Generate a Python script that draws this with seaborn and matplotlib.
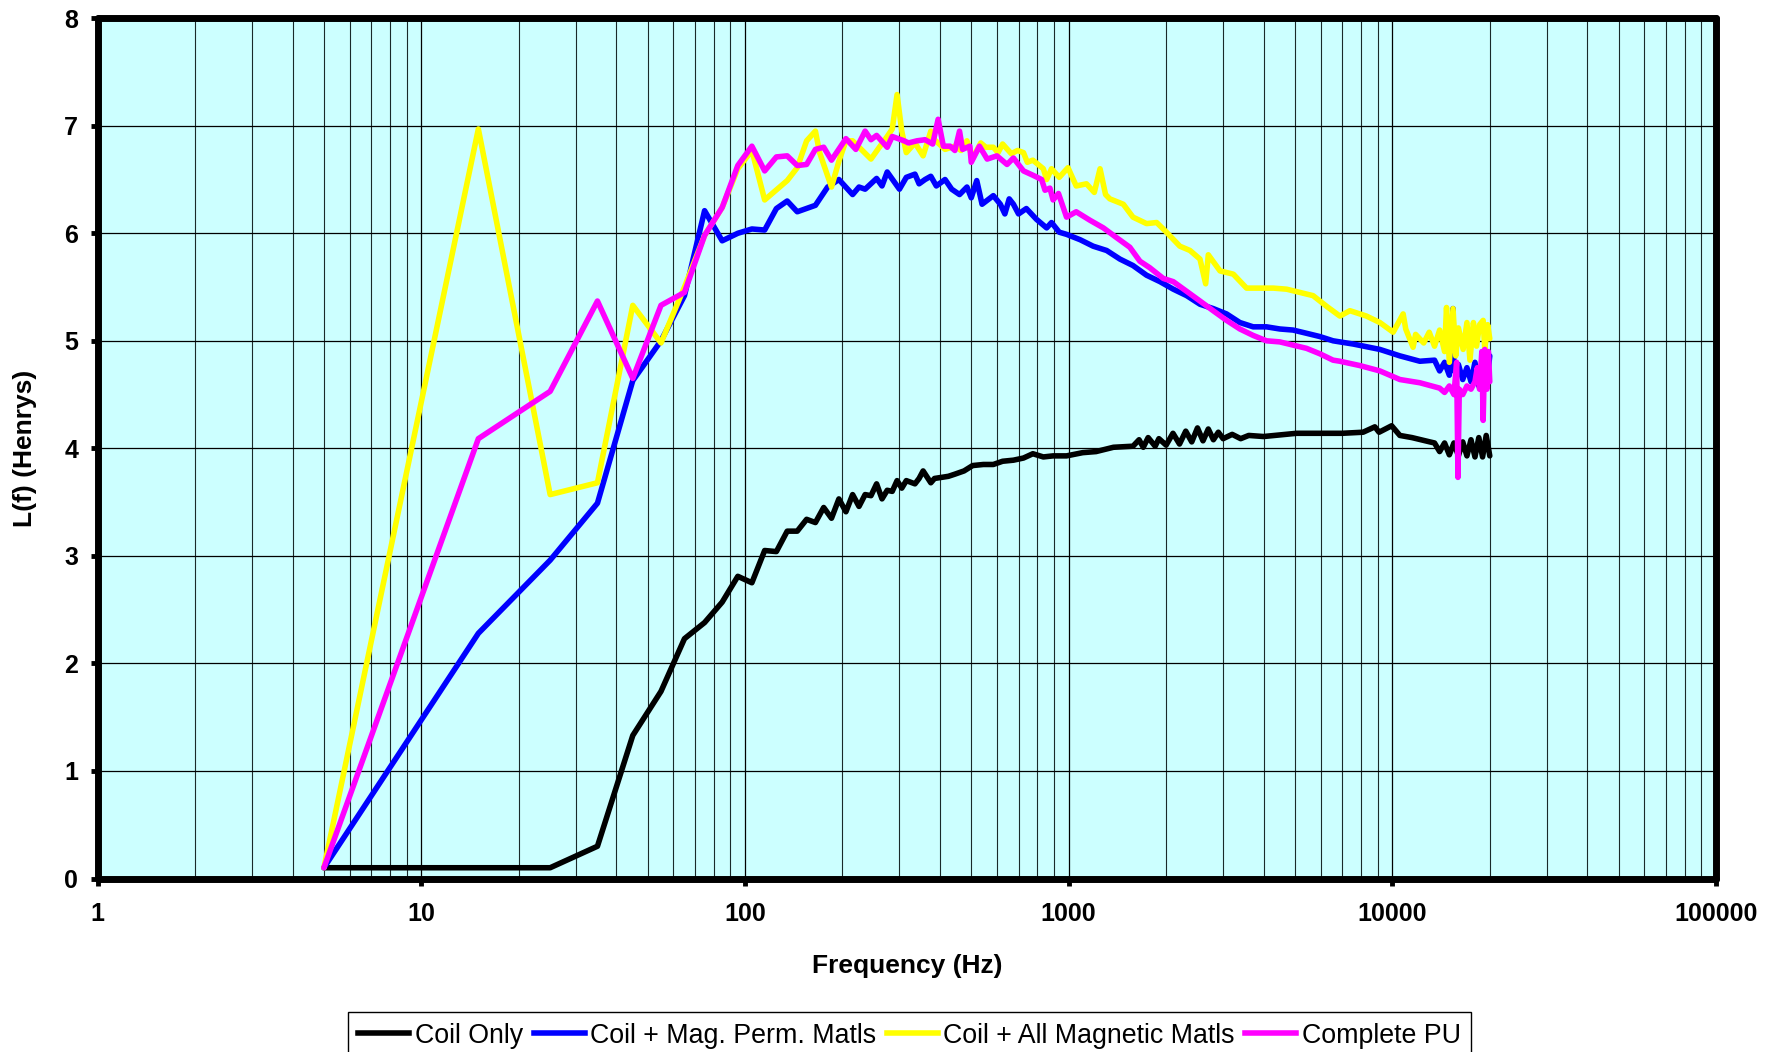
import numpy as np
import pandas as pd
import matplotlib
matplotlib.use("Agg")
import matplotlib.pyplot as plt
from matplotlib.ticker import FixedLocator, FuncFormatter, LogLocator, NullFormatter
from matplotlib.lines import Line2D
import seaborn as sns

# ---------------- data ----------------
series_names = ["Coil Only", "Coil + Mag. Perm. Matls", "Coil + All Magnetic Matls", "Complete PU"]
series_colors = ["#000000", "#0000FF", "#FFFF00", "#FF00FF"]

coil_f = [5, 15, 25, 35, 45, 55, 65, 75, 85, 95, 105, 115, 125, 135, 145, 155, 165, 175, 185, 195,
          205, 215, 225, 235, 245, 255, 265, 275, 285, 295, 305, 315, 335, 345, 355, 375, 385, 425,
          445, 475, 505, 545, 585, 625, 675, 725, 775, 835, 895, 985, 1105, 1215, 1375, 1580, 1650,
          1700, 1760, 1850, 1900, 2000, 2100, 2200, 2300, 2400, 2500, 2600, 2700, 2800, 2900, 3000,
          3200, 3400, 3600, 4000, 5060, 5970, 7000, 8120, 8830, 9100, 9950, 10550, 11500, 13060,
          13500, 14000, 14500, 15000, 15500, 16000, 16500, 17000, 17500, 18000, 18500, 19000, 19500, 20000]
coil_L = [0.10, 0.10, 0.10, 0.30, 1.33, 1.74, 2.23, 2.38, 2.57, 2.81, 2.75, 3.05, 3.04, 3.23, 3.23, 3.34, 3.31, 3.45, 3.35, 3.53,
          3.41, 3.57, 3.46, 3.57, 3.56, 3.67, 3.53, 3.61, 3.60, 3.70, 3.63, 3.70, 3.67, 3.72, 3.79, 3.68, 3.72, 3.74,
          3.76, 3.79, 3.84, 3.85, 3.85, 3.88, 3.89, 3.91, 3.95, 3.92, 3.93, 3.93, 3.96, 3.97, 4.01, 4.02, 4.08,
          4.01, 4.10, 4.02, 4.09, 4.03, 4.14, 4.04, 4.16, 4.06, 4.19, 4.07, 4.18, 4.08, 4.15, 4.09,
          4.13, 4.09, 4.12, 4.11, 4.14, 4.14, 4.14, 4.15, 4.20, 4.15, 4.21, 4.12, 4.10, 4.06,
          4.05, 3.97, 4.05, 3.94, 4.05, 3.93, 4.06, 3.93, 4.08, 3.92, 4.10, 3.92, 4.12, 3.93]

mag_f = [5, 15, 25, 35, 45, 55, 65, 75, 85, 95, 105, 115, 125, 135, 145, 165, 180, 195, 215, 225,
         235, 255, 265, 275, 300, 315, 335, 345, 360, 375, 390, 415, 435, 460, 485, 500, 520, 540,
         585, 615, 635, 655, 675, 700, 740, 795, 855, 885, 935, 985, 1085, 1190, 1310, 1440, 1580,
         1740, 1915, 2105, 2315, 2545, 2795, 3075, 3380, 3715, 4085, 4490, 4935, 5430, 5965, 6560,
         7570, 9150, 10550, 12160, 13500, 14000, 14500, 15000, 15400, 15500, 16000, 16500, 17000,
         17500, 18000, 18500, 19000, 19500, 20000]
mag_L = [0.10, 2.28, 2.96, 3.49, 4.63, 5.00, 5.42, 6.21, 5.93, 6.00, 6.04, 6.03, 6.23, 6.30, 6.20, 6.26, 6.43, 6.50, 6.36, 6.43,
         6.41, 6.51, 6.44, 6.57, 6.41, 6.52, 6.55, 6.46, 6.50, 6.53, 6.44, 6.50, 6.41, 6.36, 6.43, 6.33, 6.49, 6.27,
         6.35, 6.27, 6.18, 6.32, 6.27, 6.18, 6.23, 6.13, 6.05, 6.10, 6.01, 5.99, 5.94, 5.88, 5.84, 5.76, 5.70,
         5.61, 5.55, 5.48, 5.42, 5.34, 5.30, 5.25, 5.17, 5.13, 5.13, 5.11, 5.10, 5.07, 5.04, 5.00,
         4.97, 4.92, 4.86, 4.81, 4.82, 4.72, 4.80, 4.68, 5.30, 4.72, 4.78, 4.64, 4.75,
         4.62, 4.80, 4.58, 4.85, 4.57, 4.86]

all_f = [5, 15, 25, 35, 45, 55, 65, 75, 85, 95, 105, 115, 135, 145, 155, 165, 170, 185, 195, 205,
         215, 245, 260, 275, 285, 295, 305, 315, 335, 355, 375, 385, 415, 445, 465, 485, 505, 535,
         555, 585, 605, 625, 665, 695, 725, 745, 775, 835, 855, 885, 935, 995, 1055, 1135, 1200,
         1250, 1300, 1340, 1475, 1580, 1740, 1870, 2005, 2205, 2370, 2545, 2650, 2700, 2935, 3225,
         3545, 3900, 4290, 4715, 5180, 5690, 6270, 6885, 7395, 8320, 9150, 10060, 10800, 11000,
         11590, 11800, 12500, 13000, 13500, 14000, 14500, 14700, 15000, 15400, 15700, 16000, 16550,
         17000, 17370, 17800, 18200, 18600, 19080, 19300, 19700, 20000]
all_L = [0.10, 6.97, 3.57, 3.68, 5.33, 4.98, 5.50, 5.98, 6.24, 6.60, 6.77, 6.31, 6.49, 6.61, 6.86, 6.95, 6.75, 6.43, 6.67, 6.86,
         6.86, 6.69, 6.80, 6.90, 6.97, 7.29, 6.95, 6.75, 6.84, 6.72, 6.95, 6.87, 6.78, 6.81, 6.77, 6.86, 6.70, 6.84,
         6.80, 6.80, 6.75, 6.83, 6.74, 6.77, 6.75, 6.66, 6.68, 6.60, 6.50, 6.60, 6.52, 6.61, 6.44, 6.46, 6.38,
         6.60, 6.36, 6.32, 6.27, 6.15, 6.09, 6.10, 6.01, 5.88, 5.84, 5.76, 5.53, 5.80, 5.65, 5.62,
         5.49, 5.49, 5.49, 5.48, 5.45, 5.42, 5.32, 5.23, 5.28, 5.23, 5.17, 5.08, 5.25, 5.11,
         4.94, 5.06, 4.98, 5.08, 4.95, 5.10, 4.90, 5.31, 4.80, 5.30, 4.86, 5.12, 4.92,
         5.17, 4.82, 5.17, 4.95, 5.15, 5.19, 4.92, 5.15, 5.02]

pu_f = [5, 15, 25, 35, 45, 55, 65, 75, 85, 95, 105, 115, 125, 135, 145, 155, 165, 175, 185, 205,
        220, 235, 245, 255, 275, 285, 310, 320, 340, 360, 380, 395, 410, 430, 445, 460, 470, 495,
        500, 530, 560, 600, 645, 675, 725, 775, 825, 845, 875, 895, 930, 985, 1055, 1165, 1280,
        1405, 1545, 1660, 1780, 1960, 2105, 2315, 2545, 2795, 3075, 3380, 3715, 4085, 4490, 4935,
        5430, 5965, 6560, 6885, 7930, 9150, 10550, 12160, 14000, 14500, 15000, 15500, 15800, 15950,
        16100, 16500, 17000, 17500, 18000, 18300, 18600, 18900, 19080, 19300, 19600, 19800, 20000]
pu_L = [0.10, 4.09, 4.53, 5.37, 4.65, 5.33, 5.45, 5.98, 6.24, 6.63, 6.81, 6.58, 6.71, 6.72, 6.63, 6.64, 6.78, 6.80, 6.68, 6.88,
        6.78, 6.95, 6.87, 6.91, 6.80, 6.90, 6.86, 6.84, 6.86, 6.87, 6.83, 7.06, 6.81, 6.81, 6.77, 6.95, 6.78, 6.81,
        6.66, 6.81, 6.69, 6.72, 6.64, 6.70, 6.58, 6.54, 6.50, 6.40, 6.42, 6.31, 6.37, 6.15, 6.20, 6.12, 6.05,
        5.96, 5.87, 5.74, 5.68, 5.58, 5.55, 5.46, 5.37, 5.28, 5.19, 5.11, 5.05, 5.00, 4.99, 4.96,
        4.93, 4.88, 4.82, 4.81, 4.77, 4.72, 4.64, 4.61, 4.56, 4.52, 4.58, 4.50, 4.80, 3.73,
        4.55, 4.50, 4.58, 4.55, 4.62, 4.75, 4.55, 4.90, 4.26, 4.92, 4.55, 4.90, 4.62]

x_ticks = [1, 10, 100, 1000, 10000, 100000]
y_ticks = [0, 1, 2, 3, 4, 5, 6, 7, 8]

# ---------------- build long table ----------------
frames = []
for name, f, L in zip(series_names, [coil_f, mag_f, all_f, pu_f], [coil_L, mag_L, all_L, pu_L]):
    frames.append(pd.DataFrame({"Frequency": f, "L": L, "Series": name}))
df = pd.concat(frames, ignore_index=True)

# ---------------- plotting ----------------
plt.rcParams["font.family"] = ["Liberation Sans", "DejaVu Sans"]

W, H, DPI = 1782, 1052, 100
fig = plt.figure(figsize=(W / DPI, H / DPI), dpi=DPI)
fig.patch.set_facecolor("white")
ax = fig.add_axes([97.7 / W, 1 - 878.5 / H, (1716 - 97.7) / W, (878.5 - 18.2) / H])
ax.set_facecolor("#CCFFFF")

LW = 4.0
sns.lineplot(data=df, x="Frequency", y="L", hue="Series", hue_order=series_names,
             palette=dict(zip(series_names, series_colors)), estimator=None, sort=False,
             linewidth=LW, ax=ax, legend=False)
for ln in ax.lines:
    ln.set_solid_joinstyle("round")
    ln.set_solid_capstyle("round")

ax.set_xscale("log")
ax.set_xlim(1, 100000)
ax.set_ylim(0, 8)

ax.xaxis.set_major_locator(FixedLocator(x_ticks))
ax.xaxis.set_major_formatter(FuncFormatter(lambda v, p: f"{int(round(v))}"))
ax.xaxis.set_minor_locator(LogLocator(base=10, subs=np.arange(2, 10), numticks=100))
ax.xaxis.set_minor_formatter(NullFormatter())
ax.yaxis.set_major_locator(FixedLocator(y_ticks))

ax.set_axisbelow(True)
ax.grid(True, which="major", axis="both", color="#000000", linewidth=0.9)
ax.grid(True, which="minor", axis="x", color="#1a2a2a", linewidth=0.8)

for s in ax.spines.values():
    s.set_linewidth(5)
    s.set_color("black")
    s.set_capstyle("round")

ax.tick_params(axis="x", which="major", direction="out", length=5, width=3.5, pad=12,
               labelsize=18)
ax.tick_params(axis="x", which="minor", length=0)
ax.tick_params(axis="y", which="major", direction="out", length=5, width=3.5, pad=9,
               labelsize=18)
for lbl in ax.get_xticklabels() + ax.get_yticklabels():
    lbl.set_fontweight("bold")

ax.set_xlabel("Frequency (Hz)", fontsize=19, fontweight="bold")
ax.set_ylabel("L(f) (Henrys)", fontsize=19, fontweight="bold", va="center")
ax.xaxis.set_label_coords(0.5, -0.088)
ax.yaxis.set_label_coords(-0.0449, 0.5)

handles = [Line2D([0], [0], color=c, linewidth=LW) for c in series_colors]
leg = ax.legend(handles, series_names, ncol=4, loc="upper center",
                bbox_to_anchor=(909.5 / W, 1 - 1012 / H), bbox_transform=fig.transFigure,
                fontsize=19.3, frameon=True, fancybox=False, edgecolor="black",
                handlelength=1.9, handletextpad=0.2, columnspacing=0.4, borderpad=0.4,
                borderaxespad=0)
leg.get_frame().set_linewidth(1.0)
leg.get_frame().set_facecolor("white")
leg.get_frame().set_alpha(1)

fig.savefig("out.png", dpi=DPI)
